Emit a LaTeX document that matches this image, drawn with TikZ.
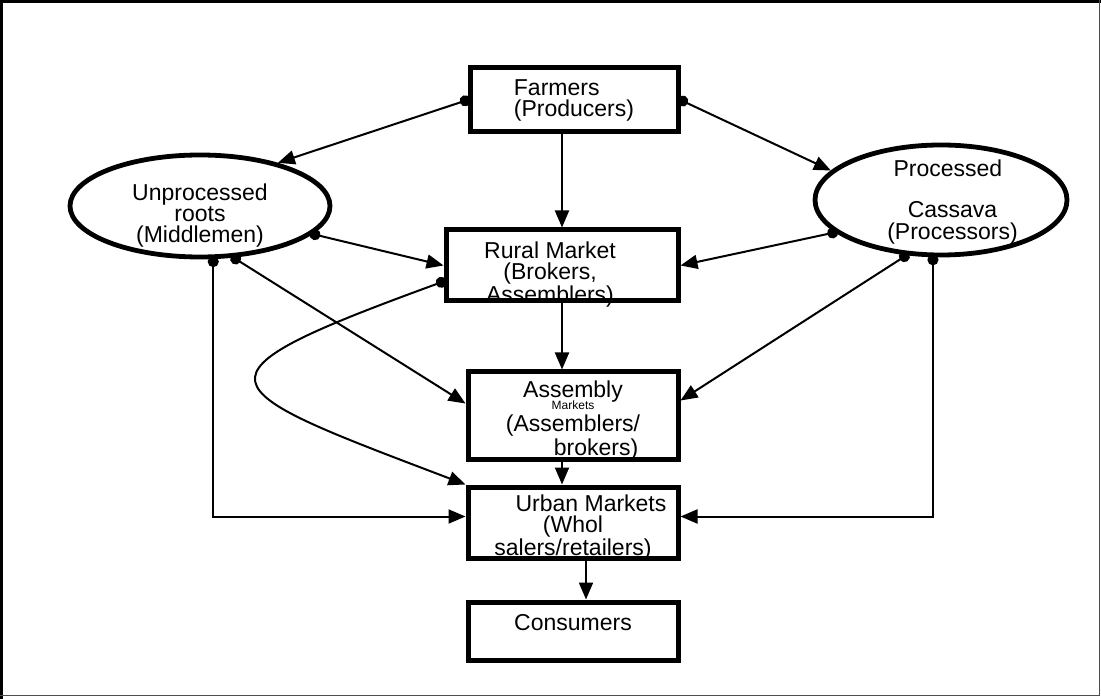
\documentclass[tikz,border=0pt]{standalone}
\usepackage{fontspec}
\setmainfont{Liberation Sans}
\usetikzlibrary{arrows.meta, shapes.geometric, calc, positioning}

\begin{document}
\begin{tikzpicture}[x=0.5pt, y=-0.5pt,
        every node/.style={font=\fontsize{11.5}{10.5}\selectfont, inner sep=0pt},
        box/.style={draw, line width=2.5pt, rectangle, align=center},
        oval/.style={draw, line width=2.4pt, ellipse, align=center},
        link/.style={line width=1pt, -{Triangle[length=8.5pt, width=7pt]}},
        dotlink/.style={link, {Circle[length=5.5pt]}-{Triangle[length=8.5pt, width=7pt]}, shorten <=-1.5pt}]
    \useasboundingbox (0,0) rectangle (1101,699);
    % frame
    \draw[line width=2pt] (0,1) -- (1101,1);
    \draw[line width=2pt] (1,0) -- (1,699);
    \draw[line width=0.8pt, black!70] (1099.5,0) -- (1099.5,695.5) -- (0,695.5);

    \node[box, minimum width=104pt, minimum height=32pt, align=left] (farmers) at (574,100) {Farmers\\(Producers)};
    \node[oval, minimum width=130pt, minimum height=51pt,
        label={[align=center, yshift=-5pt]center:Unprocessed\\roots\hspace*{1.2em}\\(Middlemen)}] (unproc) at (200,206) {};
    \node[oval, minimum width=126pt, minimum height=55pt,
        label={[align=center, yshift=-1pt]center:\hspace*{0.6em}Processed\\[10pt]\hspace*{1em}Cassava\\[0.5pt]\hspace*{1em}(Processors)}] (proc) at (941,200) {};
    \node[box, minimum width=116pt, minimum height=35.5pt,
        label={[align=center, yshift=-4.5pt, xshift=-6pt]center:Rural Market\\(Brokers,\\Assemblers)}] (rural) at (562,265.5) {};
    \node[box, minimum width=105pt, minimum height=43.5pt,
        label={[align=center, yshift=-2.5pt]center:Assembly\\[-4.5pt]{\fontsize{6}{6}\selectfont Markets}\hspace*{1.5em}\\[0.5pt](Assemblers/\\\hspace*{2em}brokers)}] (assembly) at (573,415.5) {};
    \node[box, minimum width=105pt, minimum height=35.5pt,
        label={[align=center, yshift=-2.5pt]center:\hspace*{18pt}Urban Markets\\(Whol\hspace*{19pt}\\salers/retailers)}] (urban) at (573,522.5) {};
    \node[box, minimum width=105pt, minimum height=29pt] (consumers) at (573,631) {\raisebox{9pt}{Consumers}};

    % flows
    \draw[dotlink] (farmers.west) -- (unproc.29);
    \draw[dotlink] (farmers.east) -- (proc.165);
    \draw[link] (farmers.south -| rural) -- (rural.north);
    \draw[dotlink] (unproc.-14) -- (rural.west);
    \draw[dotlink] (proc.197) -- (rural.east);
    \draw[dotlink] (unproc.-57) -- ($(assembly.west)+(0,-12)$);
    \draw[dotlink] (proc.238) -- ($(assembly.east)+(0,-15)$);
    \draw[dotlink] (unproc.-76) |- ($(urban.west)+(0,-6)$);
    \draw[dotlink] (proc.262) |- ($(urban.east)+(0,-6)$);
    \draw[dotlink] ($(rural.west)+(0,16)$) .. controls (179,378) and (206,386) .. (urban.north west);
    \draw[link] (rural.south) -- (rural.south |- assembly.north);
    \draw[link] (assembly.south -| rural) -- (urban.north -| rural);
    \draw[link] ($(urban.south)+(13,0)$) -- ($(consumers.north)+(13,0)$);
\end{tikzpicture}
\end{document}
